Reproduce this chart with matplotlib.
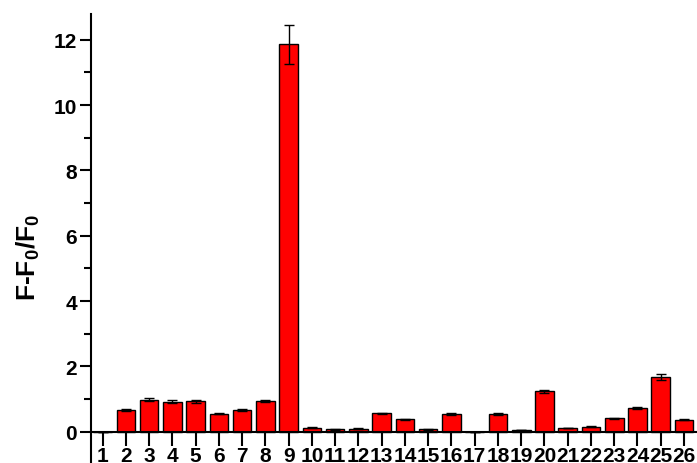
import matplotlib
matplotlib.use("Agg")
import matplotlib.pyplot as plt
from matplotlib.ticker import MultipleLocator

plt.rcParams['font.family'] = ['Liberation Sans', 'DejaVu Sans']
plt.rcParams['font.weight'] = 'bold'
plt.rcParams['mathtext.fontset'] = 'custom'
plt.rcParams['mathtext.rm'] = 'Liberation Sans:bold'
plt.rcParams['mathtext.it'] = 'Liberation Sans:bold'
plt.rcParams['mathtext.bf'] = 'Liberation Sans:bold'

categories = [str(i) for i in range(1, 27)]
values = [0.0, 0.67, 0.98, 0.92, 0.93, 0.55, 0.66, 0.94, 11.86, 0.12,
          0.07, 0.09, 0.56, 0.38, 0.07, 0.53, 0.0, 0.54, 0.05, 1.23,
          0.11, 0.15, 0.41, 0.71, 1.67, 0.37]
errors = [0.0, 0.03, 0.05, 0.04, 0.04, 0.02, 0.03, 0.04, 0.59, 0.01,
          0.01, 0.01, 0.02, 0.02, 0.01, 0.03, 0.0, 0.02, 0.01, 0.06,
          0.01, 0.01, 0.02, 0.03, 0.09, 0.02]

fig = plt.figure(figsize=(6.97, 4.64), dpi=100)
ax = fig.add_axes([91/697, 0.0, 1 - 91/697, 1 - 15/464])

x = list(range(1, 27))
ax.bar(x, values, width=0.8, color='#ff0000', edgecolor='black', linewidth=1.0, zorder=2)
ax.errorbar(x, values, yerr=errors, fmt='none', ecolor='black', elinewidth=1.0,
            capsize=3.6, capthick=1.0, zorder=3)

ax.set_xlim(0.5, 26.56)
ax.set_ylim(-0.96, 12.79)

ax.spines['top'].set_visible(False)
ax.spines['right'].set_visible(False)
ax.spines['bottom'].set_position(('data', 0))
ax.spines['left'].set_linewidth(1.5)
ax.spines['bottom'].set_linewidth(1.5)

ax.set_xticks(x)
ax.set_xticklabels(categories, fontsize=15, fontweight='bold')
ax.tick_params(axis='x', direction='out', length=10, width=1.5, pad=0)

ax.yaxis.set_major_locator(MultipleLocator(2))
ax.yaxis.set_minor_locator(MultipleLocator(1))
ax.set_yticks([0, 2, 4, 6, 8, 10, 12])
for lab in ax.get_yticklabels():
    lab.set_fontsize(15)
    lab.set_fontweight('bold')
ax.tick_params(axis='y', which='major', direction='out', length=8, width=1.5, pad=2)
ax.tick_params(axis='y', which='minor', direction='out', length=5, width=1.5)

fig.text(28/697, 1 - 257/464, 'F-F$_0$/F$_0$', rotation=90, fontsize=19,
         fontweight='bold', ha='center', va='center')

fig.savefig('out.png', dpi=100)
